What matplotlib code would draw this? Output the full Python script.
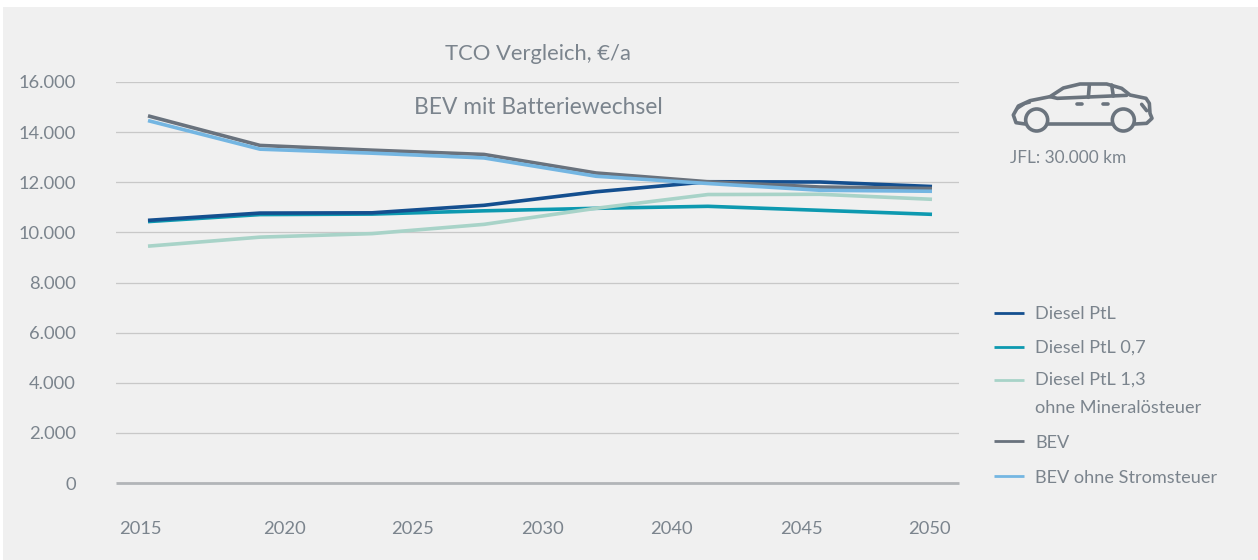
import matplotlib
matplotlib.use("Agg")
import matplotlib.pyplot as plt
from matplotlib.patches import Circle, Rectangle

# valores
pontos = [0, 1, 2, 3, 4, 5, 6, 7]
diesel_ptl = [10480, 10770, 10780, 11080, 11620, 12020, 12010, 11830]
diesel_07 = [10430, 10710, 10730, 10860, 10960, 11040, 10880, 10720]
diesel_13 = [9450, 9810, 9950, 10320, 10960, 11510, 11520, 11320]
bev = [14650, 13470, 13280, 13110, 12370, 12020, 11810, 11750]
bev_ohne = [14460, 13320, 13160, 12970, 12240, 11950, 11680, 11640]

y_ticks = [0, 2000, 4000, 6000, 8000, 10000, 12000, 14000, 16000]
y_labels = ["0", "2.000", "4.000", "6.000", "8.000", "10.000", "12.000", "14.000", "16.000"]
# os rotulos do eixo x nao ficam alinhados com os pontos no original
x_labels = ["2015", "2020", "2025", "2030", "2040", "2045", "2050"]
x_label_pos = [-0.07, 1.22, 2.36, 3.52, 4.67, 5.83, 6.98]

TEXTO = "#7b848d"
FUNDO = "#f0f0f0"
W, H = 1258, 560
Y0, Y16 = 483, 82
X_ESQ, X_DIR = 116, 959

plt.rcParams["font.family"] = ["Lato", "DejaVu Sans"]

fig = plt.figure(figsize=(W / 100, H / 100), dpi=100, facecolor="white")

# camada em pixels para fundo, legenda e icone
bg = fig.add_axes([0, 0, 1, 1], zorder=0)
bg.set_xlim(0, W)
bg.set_ylim(H, 0)
bg.axis("off")
bg.add_patch(Rectangle((3, 7), W, H, color=FUNDO, lw=0))

ax = fig.add_axes([X_ESQ / W, 1 - Y0 / H, (X_DIR - X_ESQ) / W, (Y0 - Y16) / H], zorder=1)
ax.patch.set_alpha(0)
ax.set_xlim((X_ESQ - 148) / 112, (X_DIR - 148) / 112)
ax.set_ylim(0, 16000)

for s in ax.spines.values():
    s.set_visible(False)
ax.set_yticks(y_ticks, y_labels)
ax.set_xticks(x_label_pos, x_labels)
ax.tick_params(length=0, labelsize=13.2, labelcolor=TEXTO)
ax.tick_params(axis="y", pad=29)
ax.tick_params(axis="x", pad=27)
ax.yaxis.grid(True, color="#c8c8c8", lw=0.9)
ax.set_axisbelow(True)
ax.axhline(0, color="#b2b5b8", lw=2.0, clip_on=False, solid_capstyle="butt", zorder=2)

series = [
    ("Diesel PtL", diesel_ptl, "#144f8f", 313),
    ("Diesel PtL 0,7", diesel_07, "#0d99b0", 347),
    ("Diesel PtL 1,3\nohne Mineralösteuer", diesel_13, "#a8d3c8", 380),
    ("BEV", bev, "#69727d", 441),
    ("BEV ohne Stromsteuer", bev_ohne, "#74b6e2", 476),
]
ordem = [1, 2, 0, 3, 4]
for i in ordem:
    nome, valores, cor, _ = series[i]
    ax.plot(pontos, valores, color=cor, lw=2.6, solid_capstyle="butt", solid_joinstyle="round", zorder=3)

# legenda manual
for nome, valores, cor, y in series:
    bg.plot([994, 1024], [y - 0.5, y - 0.5], color=cor, lw=2.0, solid_capstyle="butt")
    multi = "\n" in nome
    bg.text(1035, 372 if multi else y + (2 if y > 400 else 1), nome, color=TEXTO, fontsize=13.05,
            va="top" if multi else "center", linespacing=1.9)

bg.text(537.5, 54, "TCO Vergleich, €/a", color=TEXTO, fontsize=15.8, ha="center", va="center")
bg.text(538, 107, "BEV mit Batteriewechsel", color=TEXTO, fontsize=16.4, ha="center", va="center")
bg.text(1010, 158, "JFL: 30.000 km", color=TEXTO, fontsize=12.4, va="center")


# icone do carro (coordenadas do recorte ampliado 3x)
def zx(v):
    return 980 + v / 3


def zy(v):
    return 60 + v / 3


def traco(pts, lw=2.6):
    bg.plot([zx(p[0]) for p in pts], [zy(p[1]) for p in pts], color="#6b747e", lw=lw,
            solid_capstyle="round", solid_joinstyle="round")


traco([(135, 192), (108, 188), (100, 165), (115, 138), (150, 122), (210, 110), (250, 84), (300, 72),
       (380, 72), (425, 85), (450, 105), (498, 115), (508, 130), (510, 160), (516, 175), (500, 190), (465, 192)])
traco([(205, 192), (395, 192)])
traco([(210, 110), (232, 115), (440, 106)])
traco([(328, 75), (325, 112)])
traco([(395, 75), (400, 108)])
traco([(292, 131), (305, 131)])
traco([(370, 131), (385, 131)])
traco([(110, 148), (135, 132), (150, 128)], lw=1.6)
traco([(485, 133), (500, 152)])
for cx in (170, 430):
    bg.add_patch(Circle((zx(cx), zy(180)), 11, fill=False, ec="#6b747e", lw=2.6))

fig.savefig("out.png", dpi=100)
